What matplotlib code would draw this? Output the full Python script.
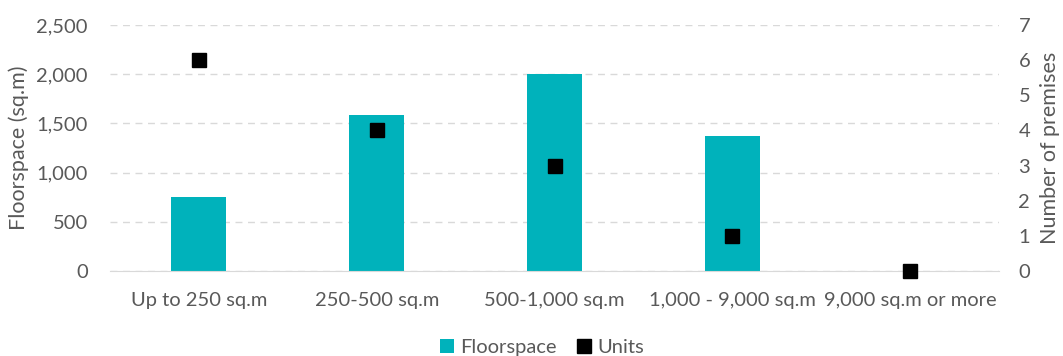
import numpy as np
import matplotlib.pyplot as plt
from matplotlib.ticker import FuncFormatter

categories = ['Up to 250 sq.m', '250-500 sq.m', '500-1,000 sq.m',
              '1,000 - 9,000 sq.m', '9,000 sq.m or more']
floorspace = [750, 1590, 2000, 1370, 0]
units = [6, 4, 3, 1, 0]

teal = '#00B2BB'
grey = '#595959'

plt.rcParams['font.family'] = ['Lato', 'DejaVu Sans']
plt.rcParams['font.size'] = 14

fig = plt.figure(figsize=(10.63, 3.56), dpi=100)
ax = fig.add_axes([0.1035, 0.2388, 0.8363, 0.691])
ax2 = ax.twinx()

x = np.arange(len(categories))
ax.bar(x, floorspace, width=0.31, color=teal, label='Floorspace', zorder=2)
ax2.plot(x, units, linestyle='none', marker='s', markersize=10,
         color='black', label='Units', zorder=3, clip_on=False)

ax.set_xlim(-0.5, len(categories) - 0.5)
ax.set_ylim(0, 2500)
ax.set_yticks(np.arange(0, 2501, 500))
ax.yaxis.set_major_formatter(FuncFormatter(lambda v, p: f'{int(v):,}'))
ax2.set_ylim(0, 7)
ax2.set_yticks(range(0, 8))

ax.grid(axis='y', linestyle=(0, (5, 4)), color='#D9D9D9', linewidth=1, zorder=0)
ax.set_axisbelow(True)

for a in (ax, ax2):
    for s in a.spines.values():
        s.set_visible(False)
    a.tick_params(length=0, colors=grey, labelsize=14.5)
ax.spines['bottom'].set_visible(True)
ax.spines['bottom'].set_color('#D9D9D9')

ax.set_xticks(x)
ax.set_xticklabels(categories)
ax.tick_params(axis='x', pad=15)
ax.tick_params(axis='y', pad=16)
ax2.tick_params(axis='y', pad=14)

ax.set_ylabel('Floorspace (sq.m)', color=grey, fontsize=15.5, labelpad=5)
ax2.set_ylabel('Number of premises', color=grey, fontsize=15.5, labelpad=7)

h1, l1 = ax.get_legend_handles_labels()
h2, l2 = ax2.get_legend_handles_labels()
fig.legend(h1 + h2, l1 + l2, loc='lower center', bbox_to_anchor=(0.51, -0.05),
           ncol=2, frameon=False, handlelength=0.7, handleheight=0.7,
           handletextpad=0.3, columnspacing=1.0, labelcolor=grey, fontsize=14.5)

fig.savefig('out.png', dpi=100)
